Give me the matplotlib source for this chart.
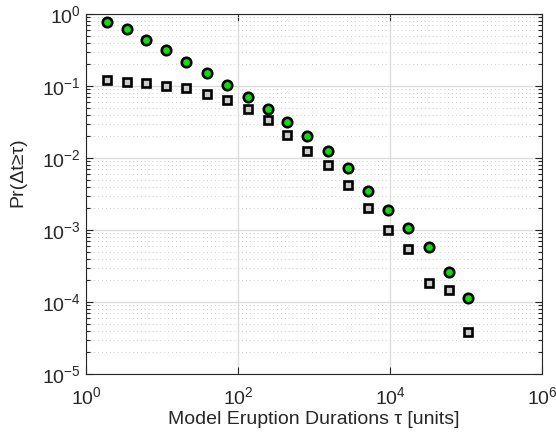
import matplotlib
matplotlib.use("Agg")
import matplotlib.pyplot as plt
from matplotlib.ticker import LogLocator, NullFormatter

# bin centres (model eruption durations)
tau = [1.87, 3.43, 6.21, 11.3, 20.7, 38.7, 72.3, 134, 246, 445, 809,
       1530, 2770, 5140, 9410, 17300, 32600, 59700, 107000]

# survival function, green circles
pr_green = [0.774, 0.613, 0.435, 0.313, 0.215, 0.150, 0.102, 0.0711, 0.048,
            0.032, 0.0202, 0.0124, 0.00718, 0.00352, 0.00187, 0.00105,
            0.00058, 0.000264, 0.000115]

# survival function, gray squares
pr_gray = [0.121, 0.114, 0.109, 0.0989, 0.0929, 0.0774, 0.064, 0.0475, 0.0337,
           0.0211, 0.0126, 0.0080, 0.00422, 0.0020, 0.00099, 0.000545,
           0.000186, 0.000147, 0.0000379]

plt.rcParams["font.family"] = ["Liberation Sans", "DejaVu Sans"]

fig = plt.figure(figsize=(5.56, 4.44), dpi=100)
ax = fig.add_axes([86 / 556, 1 - 374 / 444, 456 / 556, 360 / 444])

ax.plot(tau, pr_green, "o", ms=6.8, mfc="#00e600", mec="black", mew=1.9, zorder=3)
ax.plot(tau, pr_gray, "s", ms=6.0, mfc="#cccccc", mec="black", mew=1.9, zorder=3)

ax.set_xscale("log")
ax.set_yscale("log")
ax.set_xlim(1, 1e6)
ax.set_ylim(1e-5, 1)

ax.xaxis.set_major_locator(plt.FixedLocator([1, 1e2, 1e4, 1e6]))
ax.xaxis.set_minor_locator(LogLocator(base=10, subs=range(2, 10), numticks=20))
ax.yaxis.set_major_locator(plt.FixedLocator([1e-5, 1e-4, 1e-3, 1e-2, 1e-1, 1]))
ax.yaxis.set_minor_locator(LogLocator(base=10, subs=range(2, 10), numticks=20))
ax.xaxis.set_minor_formatter(NullFormatter())
ax.yaxis.set_minor_formatter(NullFormatter())

ax.grid(True, which="major", color="#dcdcdc", linewidth=1.0, linestyle="-")
ax.yaxis.grid(True, which="minor", color="#cfcfcf", linewidth=0.7, linestyle=(0, (1, 3)))
ax.set_axisbelow(True)

ax.tick_params(which="both", direction="in", top=True, right=True,
               colors="#262626", labelsize=14)
ax.tick_params(which="major", length=5, width=0.8)
ax.tick_params(which="minor", length=3, width=0.8)
ax.tick_params(axis="x", which="minor", length=0)
ax.tick_params(axis="x", which="major", pad=9)
for s in ax.spines.values():
    s.set_color("#262626")
    s.set_linewidth(0.8)

ax.set_xlabel("Model Eruption Durations τ [units]", fontsize=14, color="#262626", labelpad=2)
ax.set_ylabel("Pr(Δt≥τ)", fontsize=14, color="#262626")
ax.yaxis.set_label_coords(-0.13, 0.56)

fig.savefig("out.png", dpi=100)
